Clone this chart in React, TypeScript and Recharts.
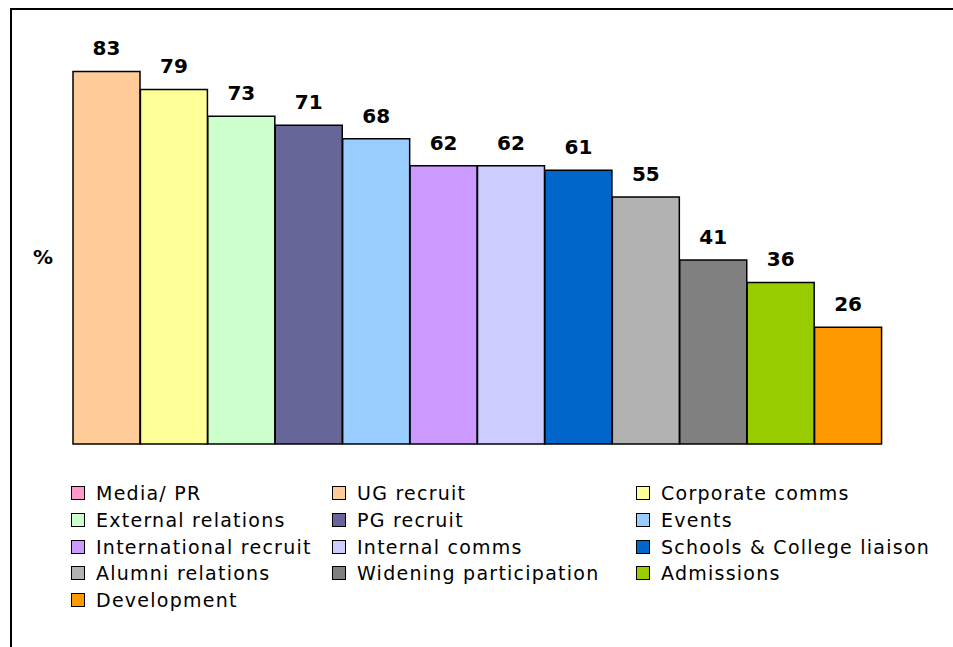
import React from 'react';
import { BarChart, Bar, XAxis, YAxis, Cell, LabelList, Legend, Customized } from 'recharts';

const legendNames = [
  'Media/ PR', 'UG recruit', 'Corporate comms',
  'External relations', 'PG recruit', 'Events',
  'International recruit', 'Internal comms', 'Schools & College liaison',
  'Alumni relations', 'Widening participation', 'Admissions',
  'Development',
];
const legendColors = [
  '#FF99CC', '#FFCC99', '#FFFF99',
  '#CCFFCC', '#666699', '#99CCFF',
  '#CC99FF', '#CCCCFF', '#0066CC',
  '#B2B2B2', '#808080', '#99CC00',
  '#FF9900',
];

const categories = [
  'UG recruit', 'Corporate comms', 'External relations', 'PG recruit', 'Events',
  'International recruit', 'Internal comms', 'Schools & College liaison',
  'Alumni relations', 'Widening participation', 'Admissions', 'Development',
];
const values = [83, 79, 73, 71, 68, 62, 62, 61, 55, 41, 36, 26];
const barColors = [
  '#FFCC99', '#FFFF99', '#CCFFCC', '#666699', '#99CCFF', '#CC99FF',
  '#CCCCFF', '#0066CC', '#B2B2B2', '#808080', '#99CC00', '#FF9900',
];

const data = categories.map((c, i) => ({ name: c, value: values[i] }));

const FONT = '"DejaVu Sans", Verdana, sans-serif';

const colX = [71, 332, 636];
const textX = [96, 357, 661];
const rowY = [493, 520, 547, 573, 600];

const LegendContent = () => (
  <div style={{ position: 'relative', width: 953, height: 160 }}>
    {legendNames.map((n, i) => {
      const col = i % 3;
      const row = Math.floor(i / 3);
      const cy = rowY[row] - 478;
      return (
        <React.Fragment key={n}>
          <div
            style={{
              position: 'absolute',
              left: colX[col],
              top: cy - 7,
              width: 12,
              height: 12,
              background: legendColors[i],
              border: '1.5px solid #000',
            }}
          />
          <div
            style={{
              position: 'absolute',
              left: textX[col],
              top: cy - 12,
              height: 24,
              lineHeight: '24px',
              fontFamily: FONT,
              fontSize: 19,
              letterSpacing: 1.25,
              color: '#000',
              whiteSpace: 'nowrap',
            }}
          >
            {n}
          </div>
        </React.Fragment>
      );
    })}
  </div>
);

const ValueLabel = (props: any) => {
  const { x, y, width, value } = props;
  return (
    <text
      x={x + width / 2}
      y={y - 16}
      textAnchor="middle"
      fontFamily={FONT}
      fontWeight="bold"
      fontSize={20}
      fill="#000"
    >
      {value}
    </text>
  );
};

const PercentLabel = () => (
  <text x={43} y={264} textAnchor="middle" fontFamily={FONT} fontWeight="bold" fontSize={20} fill="#000">
    %
  </text>
);

export default function App() {
  return (
    <div style={{ position: 'absolute', left: 0, top: 0, width: 953, height: 647, overflow: 'hidden', background: '#fff' }}>
      <div
        style={{
          position: 'absolute',
          left: 10,
          top: 8,
          width: 1000,
          height: 700,
          border: '2px solid #000',
          boxSizing: 'border-box',
        }}
      />
      <div style={{ position: 'absolute', left: 0, top: 0 }}>
        <BarChart
          width={953}
          height={647}
          data={data}
          margin={{ top: 40, left: 73, right: 71, bottom: 43 }}
          barCategoryGap={0}
          barGap={0}
        >
          <XAxis dataKey="name" hide />
          <YAxis hide domain={[0, 90]} />
          <Customized component={PercentLabel} />
          <Bar dataKey="value" isAnimationActive={false} stroke="#000" strokeWidth={1.5}>
            {data.map((d, i) => (
              <Cell key={d.name} fill={barColors[i]} />
            ))}
            <LabelList dataKey="value" content={ValueLabel} />
          </Bar>
          <Legend
            content={LegendContent}
            wrapperStyle={{ position: 'absolute', left: 0, top: 478, width: 953, height: 160 }}
          />
        </BarChart>
      </div>
    </div>
  );
}
